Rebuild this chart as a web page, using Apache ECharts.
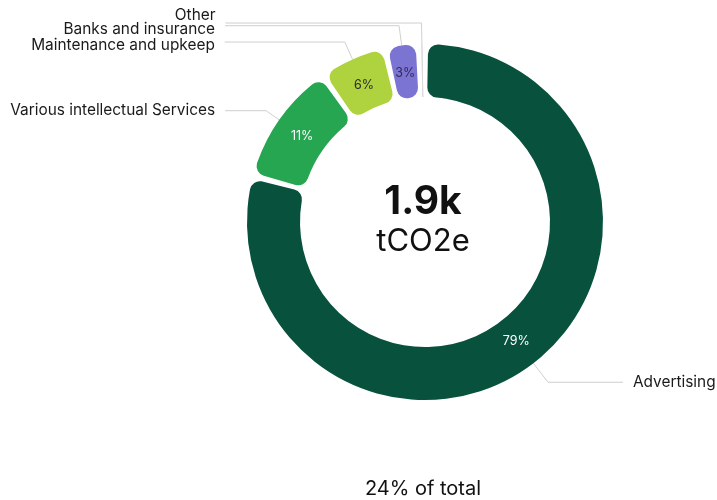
<!DOCTYPE html>
<html>
<head>
<meta charset="utf-8">
<script src="https://cdn.jsdelivr.net/npm/echarts@6/dist/echarts.min.js"></script>
<style>
  html, body { margin: 0; padding: 0; background: #ffffff; }
  #chart { width: 717px; height: 500px; }
</style>
</head>
<body>
<div id="chart"></div>
<script>
// Emission categories and their footprint (tCO2e)
const categories = ['Advertising', 'Various intellectual Services', 'Maintenance and upkeep', 'Banks and insurance', 'Other'];
const emissions = [1495, 210, 115, 58, 10];
const totalLabel = '1.9k';
const unitLabel = 'tCO2e';
const shareLabel = '24% of total';

// Styling per category
const sliceColors = ['#07513d', '#27a651', '#afd33f', '#7c74d2', '#d9d9d9'];
const insideLabelColors = ['#ffffff', '#ffffff', '#2b2b2b', '#2f2b55', '#2b2b2b'];
// Leader line lengths (radial part, horizontal part) and vertical nudge of the name text
const leaderLengths = [[24, 75], [16, 41], [19, 120], [20, 174], [21, 196]];
const nameNudge = [0, 0, 3, 4, -8];

const FONT = 'Inter, "Noto Sans", sans-serif';
const CENTER = [425, 222];
const RADIUS = [125, 178];

const chart = echarts.init(document.getElementById('chart'), null, { renderer: 'canvas' });

const ringData = categories.map((name, i) => ({
  name,
  value: emissions[i],
  itemStyle: name === 'Other'
    ? { color: sliceColors[i], borderColor: sliceColors[i], borderWidth: 1, borderRadius: 0 }
    : { color: sliceColors[i] }
}));

const percentData = categories.map((name, i) => ({
  name,
  value: emissions[i],
  label: { color: insideLabelColors[i], show: name !== 'Other' }
}));

const nameData = categories.map((name, i) => ({
  name,
  value: emissions[i],
  labelLine: { length: leaderLengths[i][0], length2: leaderLengths[i][1] }
}));

const common = {
  type: 'pie',
  center: CENTER,
  startAngle: 90,
  clockwise: true,
  padAngle: 2,
  silent: true
};

chart.setOption({
  animation: false,
  graphic: [
    {
      type: 'text', x: CENTER[0] - 2, y: 202,
      style: { text: totalLabel, font: 'bold 39px ' + FONT, fill: '#111111', align: 'center', verticalAlign: 'middle' }
    },
    {
      type: 'text', x: CENTER[0] - 2, y: 242,
      style: { text: unitLabel, font: '31px ' + FONT, fill: '#111111', align: 'center', verticalAlign: 'middle' }
    },
    {
      type: 'text', x: 423, y: 489,
      style: { text: shareLabel, font: '20px ' + FONT, fill: '#111111', align: 'center', verticalAlign: 'middle' }
    }
  ],
  series: [
    // the ring itself
    Object.assign({}, common, {
      radius: RADIUS,
      itemStyle: { borderRadius: 10 },
      label: { show: false },
      labelLine: { show: false },
      data: ringData
    }),
    // percentage labels inside the ring
    Object.assign({}, common, {
      radius: [116, 178],
      itemStyle: { color: 'rgba(0,0,0,0)' },
      label: {
        position: 'inside',
        fontFamily: FONT,
        fontSize: 12.5,
        formatter: p => Math.round(p.percent) + '%'
      },
      labelLine: { show: false },
      data: percentData
    }),
    // category names with leader lines
    Object.assign({}, common, {
      radius: RADIUS,
      avoidLabelOverlap: false,
      itemStyle: { color: 'rgba(0,0,0,0)' },
      label: {
        show: true,
        position: 'outside',
        alignTo: 'none',
        fontFamily: FONT,
        fontSize: 15.4,
        color: '#1a1a1a',
        formatter: '{b}',
        distanceToLabelLine: 10
      },
      labelLine: {
        show: true,
        lineStyle: { color: '#cfcfcf', width: 1 }
      },
      labelLayout: p => ({ dy: nameNudge[p.dataIndex] }),
      data: nameData
    })
  ]
});
</script>
</body>
</html>
